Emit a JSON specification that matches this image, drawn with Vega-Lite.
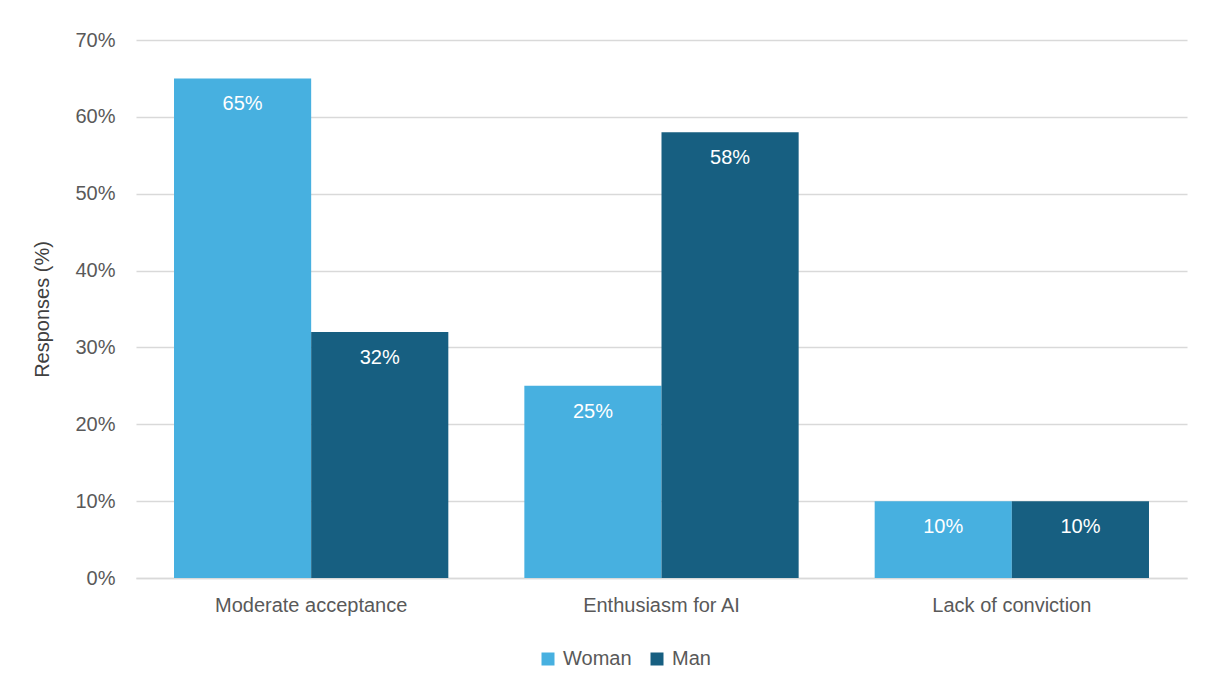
{
  "$schema": "https://vega.github.io/schema/vega-lite/v6.json",
  "width": 1051,
  "height": 538,
  "autosize": "none",
  "padding": {"left": 136, "top": 40, "right": 21, "bottom": 112},
  "background": "white",
  "config": {
    "font": "Liberation Sans, Arial",
    "view": {"stroke": null},
    "axis": {"labelFont": "Liberation Sans, Arial", "titleFont": "Liberation Sans, Arial", "labelColor": "#595959", "titleColor": "#404040", "labelFontSize": 20, "titleFontSize": 20, "titleFontWeight": "normal", "labelLimit": 0},
    "legend": {"labelFont": "Liberation Sans, Arial", "labelFontSize": 20, "labelColor": "#595959", "labelLimit": 0}
  },
  "data": {
    "values": [
      {"theme": "Moderate acceptance", "gender": "Woman", "share": 0.65},
      {"theme": "Moderate acceptance", "gender": "Man", "share": 0.32},
      {"theme": "Enthusiasm for AI", "gender": "Woman", "share": 0.25},
      {"theme": "Enthusiasm for AI", "gender": "Man", "share": 0.58},
      {"theme": "Lack of conviction", "gender": "Woman", "share": 0.10},
      {"theme": "Lack of conviction", "gender": "Man", "share": 0.10}
    ]
  },
  "encoding": {
    "x": {
      "field": "theme", "type": "nominal",
      "sort": ["Moderate acceptance", "Enthusiasm for AI", "Lack of conviction"],
      "scale": {"paddingInner": 0.217, "paddingOuter": 0.1085},
      "axis": {"title": null, "labelAngle": 0, "labelPadding": 17, "ticks": false, "domain": true, "domainColor": "#d9d9d9", "domainWidth": 1.5}
    },
    "xOffset": {"field": "gender", "type": "nominal", "sort": ["Woman", "Man"], "scale": {"paddingInner": 0, "paddingOuter": 0}},
    "y": {
      "field": "share", "type": "quantitative",
      "scale": {"domain": [0, 0.7]},
      "axis": {"title": "Responses (%)", "values": [0, 0.1, 0.2, 0.3, 0.4, 0.5, 0.6, 0.7], "format": ".0%", "ticks": false, "domain": false, "gridColor": "#d9d9d9", "gridWidth": 1.5, "labelPadding": 21, "titlePadding": 22}
    }
  },
  "layer": [
    {
      "mark": {"type": "bar"},
      "encoding": {
        "color": {
          "field": "gender", "type": "nominal",
          "sort": ["Woman", "Man"],
          "scale": {"domain": ["Woman", "Man"], "range": ["#47b0e0", "#175f81"]},
          "legend": {"title": null, "orient": "none", "direction": "horizontal", "legendX": 402, "legendY": 609, "symbolType": "square", "symbolSize": 169, "symbolStrokeWidth": 0, "labelOffset": 5, "columnPadding": 15}
        }
      }
    },
    {
      "mark": {"type": "text", "color": "white", "fontSize": 20, "baseline": "middle", "dy": 26, "font": "Liberation Sans, Arial"},
      "encoding": {
        "text": {"field": "share", "type": "quantitative", "format": ".0%"},
        "detail": {"field": "gender"}
      }
    }
  ]
}
